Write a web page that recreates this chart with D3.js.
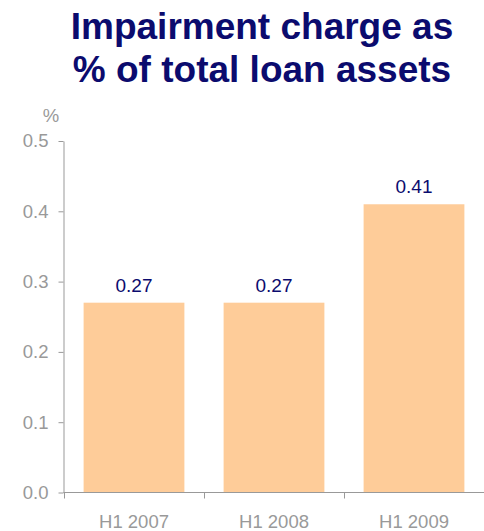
<!DOCTYPE html>
<html><head><meta charset="utf-8">
<script src="https://cdn.jsdelivr.net/npm/d3@7"></script>
<style>body{margin:0;background:#fff}svg{display:block}</style>
</head><body>
<script>
const categories = ["H1 2007", "H1 2008", "H1 2009"];
const values = [0.27, 0.27, 0.41];
const yTicks = [0, 0.1, 0.2, 0.3, 0.4, 0.5];
const titleLines = ["Impairment charge as", "% of total loan assets"];

const W = 484, H = 531;
const svg = d3.select("body").append("svg").attr("width", W).attr("height", H);
const font = "'Liberation Sans', Arial, sans-serif";
const grey = "#999999";
const navy = "#0b0b6e";

const x = d3.scaleBand().domain(categories).range([64, 484]).paddingInner(0.28).paddingOuter(0.14);
const y = d3.scaleLinear().domain([0, 0.5]).range([492.5, 141]);

svg.selectAll("text.title").data(titleLines).join("text")
  .attr("class", "title")
  .attr("x", 262).attr("y", (d, i) => 38.5 + i * 43)
  .attr("text-anchor", "middle")
  .attr("font-family", font).attr("font-weight", "bold").attr("font-size", 37)
  .attr("fill", navy).text(d => d);

svg.selectAll("rect.bar").data(values).join("rect")
  .attr("class", "bar")
  .attr("x", (d, i) => x(categories[i]))
  .attr("width", x.bandwidth())
  .attr("y", d => y(d))
  .attr("height", d => y(0) - y(d))
  .attr("fill", "#fecc99");

svg.selectAll("text.val").data(values).join("text")
  .attr("class", "val")
  .attr("x", (d, i) => x(categories[i]) + x.bandwidth() / 2)
  .attr("y", d => y(d) - 11)
  .attr("text-anchor", "middle")
  .attr("font-family", font).attr("font-size", 19)
  .attr("fill", navy).text(d => d3.format(".2f")(d));

// y axis
const yAxis = svg.append("g").attr("transform", "translate(63.5,0)")
  .call(d3.axisLeft(y).tickValues(yTicks).tickFormat(d3.format(".1f")).tickSize(5).tickPadding(10).tickSizeOuter(0));
yAxis.selectAll("path,line").attr("stroke", grey);
yAxis.selectAll("text").attr("fill", grey).attr("font-family", font).attr("font-size", 18.5);

// x axis: line with ticks at band boundaries
const xg = svg.append("g").attr("transform", "translate(0,492.5)");
xg.append("line").attr("x1", 63.5).attr("x2", 484).attr("stroke", grey);
const boundaries = categories.map(c => x(c) - x.step() * x.paddingInner() / 2);
xg.selectAll("line.tk").data(boundaries).join("line")
  .attr("class", "tk")
  .attr("x1", d => Math.round(d) + 0.5).attr("x2", d => Math.round(d) + 0.5)
  .attr("y1", 0).attr("y2", 6).attr("stroke", grey);
xg.selectAll("text").data(categories).join("text")
  .attr("x", d => x(d) + x.bandwidth() / 2)
  .attr("y", 35)
  .attr("text-anchor", "middle")
  .attr("font-family", font).attr("font-size", 18.5)
  .attr("fill", grey).text(d => d);

svg.append("text").attr("x", 51).attr("y", 122).attr("text-anchor", "middle")
  .attr("font-family", font).attr("font-size", 18.5).attr("fill", grey).text("%");
</script>
</body></html>
